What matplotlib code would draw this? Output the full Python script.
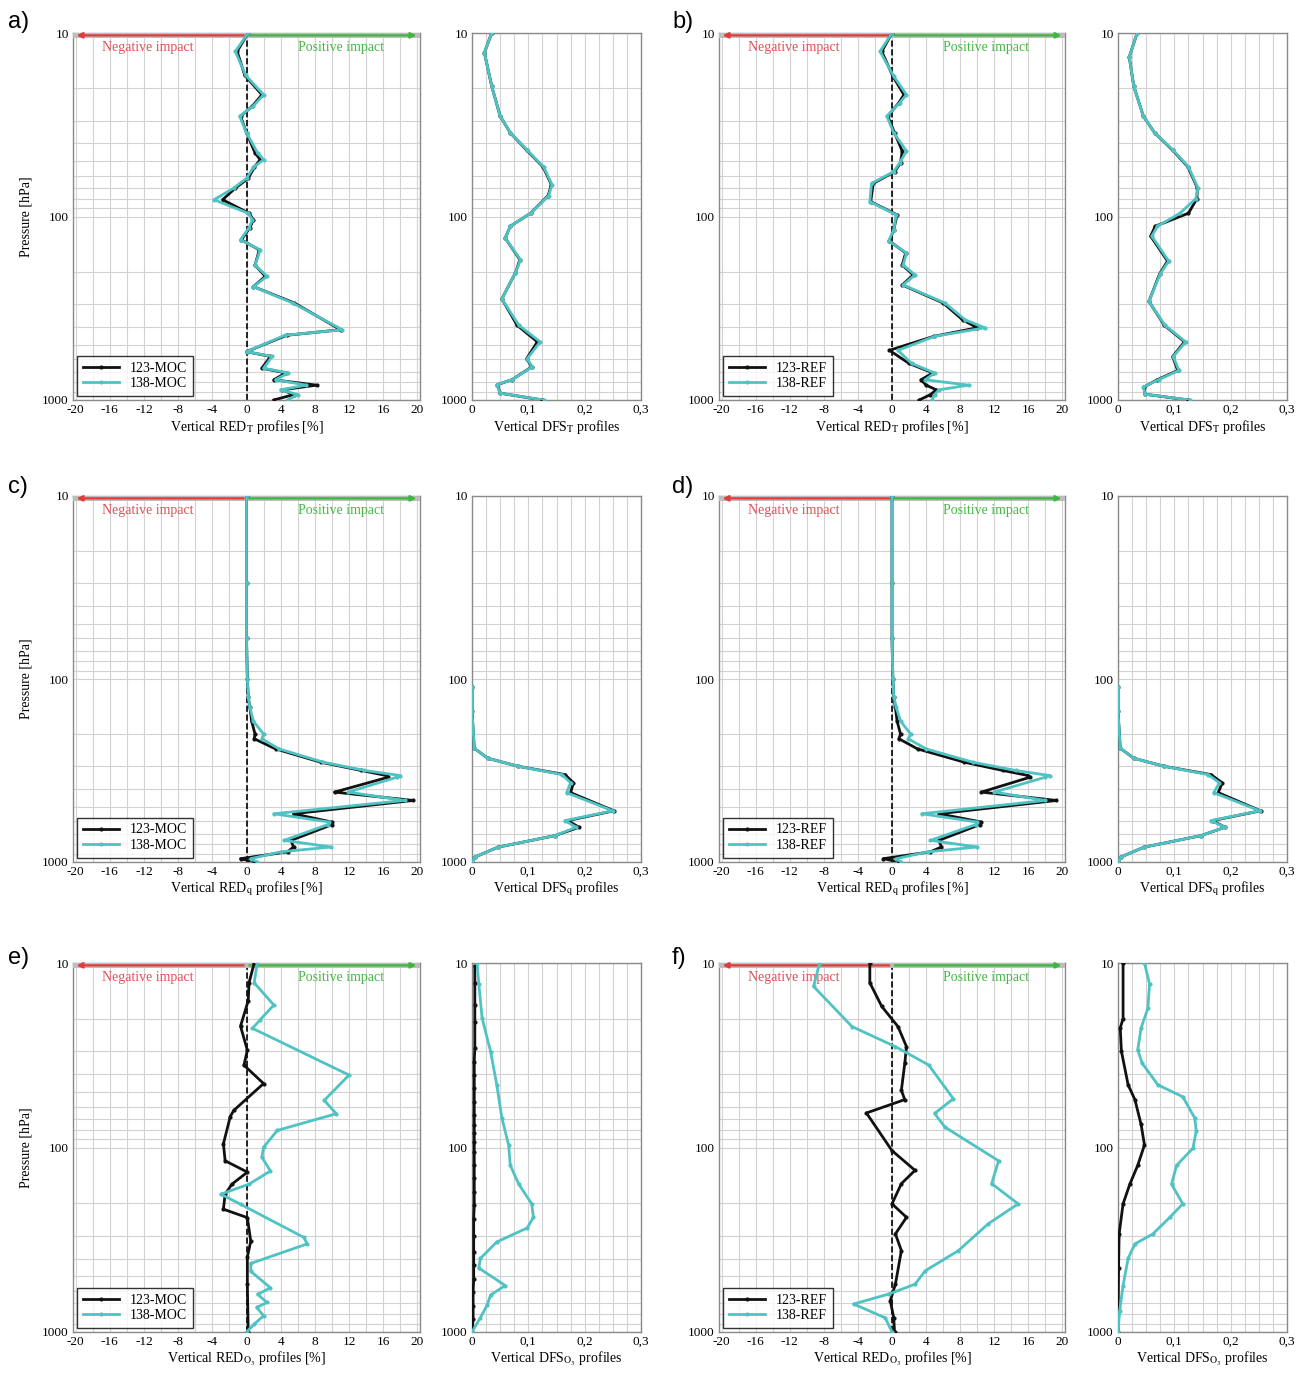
import matplotlib
matplotlib.use("Agg")
import matplotlib.pyplot as plt
from matplotlib.ticker import MultipleLocator, LogLocator, NullFormatter, FixedLocator

plt.rcParams['font.family'] = ['Liberation Serif', 'DejaVu Serif']
plt.rcParams['mathtext.fontset'] = 'stix'

# --- data (pressure in hPa, RED in %, DFS unitless) ---
# a) temperature, MOC
p_a = [10, 12.6, 17, 21.7, 25, 28.4, 35, 45, 49, 54, 62, 70, 81, 96, 104, 115, 134, 152, 184, 212, 241,
       296, 414, 444, 545, 579, 671, 712, 776, 830, 880, 935, 1000]
a_red_138 = [0.2, -1.3, -0.1, 2.0, 0.8, -0.8, 0.0, 1.3, 2.0, 0.8, 0.0, -1.5, -3.8, 0.2, 0.7, 0.3, -0.7, 1.6, 1.0,
             2.4, 0.8, 5.4, 11.2, 4.5, 0.0, 3.0, 2.0, 4.9, 3.4, 7.0, 4.0, 6.0, 4.8]
a_red_123 = [0.2, -1.1, -0.2, 1.8, 0.7, -0.7, 0.0, 1.0, 1.6, 0.9, 0.2, -1.3, -2.8, 0.3, 0.8, 0.4, -0.6, 1.5, 1.0,
             2.2, 0.8, 5.6, 11.0, 4.7, 0.0, 2.8, 1.8, 4.6, 3.2, 8.2, 4.2, 5.5, 3.2]
p_a_dfs = [10, 12.8, 19.5, 28.4, 35, 43.5, 53.6, 67, 77, 96, 113, 131, 172, 203, 281, 391, 482, 595, 660, 775,
           825, 918, 1000]
a_dfs_138 = [0.035, 0.022, 0.035, 0.05, 0.068, 0.098, 0.127, 0.142, 0.136, 0.104, 0.068, 0.059, 0.086, 0.077,
             0.053, 0.083, 0.121, 0.098, 0.107, 0.071, 0.044, 0.05, 0.127]
a_dfs_123 = [0.035, 0.022, 0.035, 0.05, 0.068, 0.097, 0.126, 0.141, 0.135, 0.104, 0.068, 0.059, 0.085, 0.077,
             0.053, 0.08, 0.116, 0.097, 0.106, 0.071, 0.045, 0.05, 0.125]

# b) temperature, REF
p_b = [10, 12.6, 17.2, 21.7, 24, 28.4, 35, 44, 51, 57, 66, 83, 98, 118, 136, 158, 184, 208, 236, 296, 366, 404,
       450, 536, 632, 712, 776, 830, 880, 935, 1000]
b_red_138 = [0, -1.4, 0.2, 1.7, 0.9, -0.6, 0.2, 1.7, 0.9, 0.2, -2.4, -2.6, 0.5, 0.2, -0.4, 1.7, 1.3, 2.7, 1.3,
             6.2, 8.6, 10.9, 5.0, 0.7, 2.3, 5.0, 3.9, 9.0, 5.5, 5.0, 4.7]
b_red_123 = [0, -1.2, 0.1, 1.4, 0.8, -0.5, 0.3, 1.2, 1.0, 0.3, -2.2, -2.5, 0.6, 0.2, -0.3, 1.6, 1.2, 2.5, 1.2,
             6.0, 8.3, 10.0, 4.9, -0.3, 2.0, 4.8, 3.4, 4.0, 5.2, 4.5, 3.2]
p_b_dfs = [10, 13.5, 19.5, 28.4, 35, 43.5, 53.6, 70, 80, 96, 113, 128, 175, 205, 290, 391, 482, 580, 690, 775,
           850, 930, 1000]
b_dfs_138 = [0.034, 0.02, 0.028, 0.045, 0.065, 0.098, 0.125, 0.142, 0.138, 0.11, 0.07, 0.06, 0.09, 0.075, 0.055,
             0.083, 0.12, 0.098, 0.108, 0.072, 0.045, 0.048, 0.127]
b_dfs_123 = [0.034, 0.02, 0.028, 0.045, 0.065, 0.097, 0.124, 0.141, 0.14, 0.125, 0.066, 0.058, 0.088, 0.074,
             0.055, 0.082, 0.118, 0.097, 0.106, 0.07, 0.046, 0.048, 0.125]

# c) humidity, MOC
p_c = [10, 30, 60, 100, 125, 143, 170, 200, 212, 241, 285, 316, 337, 344, 415, 461, 545, 605, 625, 762, 828,
       880, 959, 1000]
c_red_138 = [0, 0, 0, 0.1, 0.2, 0.4, 0.8, 2.0, 1.8, 3.8, 9.0, 13.8, 18.0, 17.6, 11.9, 18.5, 3.2, 9.7, 9.5, 4.4,
             9.9, 4.0, 0.5, 1.2]
c_red_123 = [0, 0, 0, 0.1, 0.2, 0.4, 0.6, 1.0, 0.9, 3.4, 8.7, 13.4, 16.4, 16.6, 10.3, 19.5, 5.5, 10.0, 10.0, 5.2,
             5.5, 4.8, -0.7, 0.9]
p_cd_dfs = [110, 150, 239, 271, 300, 333, 369, 418, 525, 594, 646, 718, 830, 940, 1000]
c_dfs_138 = [0, 0, 0.004, 0.028, 0.082, 0.16, 0.175, 0.168, 0.25, 0.165, 0.185, 0.147, 0.046, 0.005, 0]
c_dfs_123 = [0, 0, 0.004, 0.028, 0.082, 0.165, 0.18, 0.175, 0.252, 0.17, 0.19, 0.147, 0.046, 0.005, 0]

# d) humidity, REF
d_red_138 = [0, 0, 0, 0.1, 0.2, 0.5, 1.0, 2.2, 1.9, 4.0, 9.5, 14.5, 18.5, 18.0, 12.0, 18.0, 3.5, 10.0, 9.8, 4.5,
             10.0, 4.2, 0.5, 1.0]
d_red_123 = [0, 0, 0, 0.1, 0.2, 0.4, 0.6, 1.0, 0.8, 3.0, 8.5, 13.0, 16.0, 16.2, 10.5, 19.3, 5.5, 10.5, 10.3, 5.5,
             5.8, 4.5, -1.0, 0.8]
d_dfs_138 = [0, 0, 0.004, 0.028, 0.082, 0.16, 0.18, 0.17, 0.252, 0.165, 0.19, 0.147, 0.046, 0.005, 0]
d_dfs_123 = [0, 0, 0.004, 0.028, 0.082, 0.165, 0.185, 0.178, 0.253, 0.168, 0.19, 0.147, 0.046, 0.005, 0]

# model levels with markers (used for the near-zero O3 DFS curves)
levels = [10.4, 12.8, 16.8, 20.9, 29, 34.2, 40.5, 47.8, 56.6, 66.9, 75.7, 83.8, 93, 106, 125, 147, 174, 205, 243,
          300, 369, 434, 518, 610, 720, 850, 1000]

# e) ozone, MOC
p_e_138 = [10, 12.8, 16.9, 20.3, 22.6, 40.5, 55.5, 65.6, 80.8, 99.7, 113, 134, 158, 179, 203, 307, 333, 425, 469,
           576, 625, 691, 736, 817, 906, 1000]
e_red_138 = [1.25, 0.9, 3.2, 1.6, 0.7, 12.0, 9.1, 10.5, 3.6, 2.0, 1.8, 2.8, 0.3, -3.0, -0.7, 6.7, 7.1, 0.5, 0.5,
             2.8, 1.3, 2.4, 1.2, 2.0, 0.9, 0.0]
p_e_123 = [10, 12.8, 16, 22, 29.7, 35.8, 45, 63, 68, 95.4, 118, 136, 158, 179, 216, 240, 322, 392, 552, 1000]
e_red_123 = [0.9, 0.3, 0.2, -0.7, 0.1, -0.3, 2.0, -1.5, -1.9, -2.7, -2.5, 0.1, -1.7, -2.5, -2.7, 0.1, 0.5, 0.1,
             0.1, 0.2]
p_e_dfs = [10, 13, 19.9, 30.2, 45.8, 69, 97, 125, 158, 202, 239, 273, 325, 399, 450, 560, 630, 713, 835, 1000]
e_dfs_138 = [0.009, 0.012, 0.018, 0.033, 0.044, 0.053, 0.065, 0.068, 0.083, 0.106, 0.109, 0.098, 0.044, 0.015,
             0.012, 0.059, 0.033, 0.027, 0.015, 0.0]
e_dfs_123 = [0.005, 0.005, 0.005, 0.005, 0.005, 0.004, 0.004, 0.004, 0.004, 0.004, 0.004, 0.004, 0.004, 0.004,
             0.004, 0.004, 0.004, 0.004, 0.003, 0.003, 0.003, 0.003, 0.003, 0.002, 0.002, 0.002, 0.0]

# f) ozone, REF
p_f_138 = [10, 13.4, 22.1, 28.4, 35.7, 54.4, 65.4, 77.5, 118, 157, 202, 259, 362, 466, 551, 623, 705, 838, 1000]
f_red_138 = [-8.5, -9.2, -4.7, 0.4, 4.3, 7.2, 5.0, 6.2, 12.5, 11.7, 14.8, 11.3, 7.8, 3.9, 2.7, -0.4, -4.5, -0.8,
             0.0]
p_f_123 = [10, 12.8, 17.2, 22.1, 28.4, 35, 49, 55, 65, 104, 133, 157, 202, 239, 294, 362, 551, 676, 838, 1000]
f_red_123 = [-2.6, -2.6, -1.2, 0.7, 1.7, 1.5, 1.1, 1.5, -3.0, 0.0, 2.7, 1.1, 0.0, 1.7, 0.4, 1.1, 0.4, -0.2, 0.2,
             0.3]
p_f_dfs_138 = [10, 13, 17.6, 22.5, 29.6, 35, 45.8, 53.1, 69, 81, 101, 125, 158, 202, 239, 294, 333, 399, 560, 765,
               1000]
f_dfs_138 = [0.047, 0.056, 0.053, 0.041, 0.035, 0.043, 0.071, 0.115, 0.136, 0.139, 0.133, 0.104, 0.095, 0.115,
             0.092, 0.062, 0.03, 0.018, 0.009, 0.003, 0.0]
p_f_dfs_123 = [10, 20, 22.5, 30, 45.8, 55, 75, 97, 125, 158, 202, 294, 450, 1000]
f_dfs_123 = [0.009, 0.009, 0.004, 0.006, 0.018, 0.03, 0.041, 0.047, 0.035, 0.021, 0.009, 0.002, 0.001, 0.0]

red_ticks = [-20, -16, -12, -8, -4, 0, 4, 8, 12, 16, 20]
dfs_ticks = [0, 0.1, 0.2, 0.3]
dfs_tick_labels = ['0', '0,1', '0,2', '0,3']

CYAN = '#4fc3c3'
BLACK = '#111111'
W, H = 1304, 1375


def base_axis(ax):
    ax.set_yscale('log')
    ax.set_ylim(1000, 10)
    ax.yaxis.set_major_locator(FixedLocator([10, 100, 1000]))
    ax.set_yticklabels(['10', '100', '1000'])
    ax.yaxis.set_minor_locator(LogLocator(base=10, subs=range(2, 10)))
    ax.yaxis.set_minor_formatter(NullFormatter())
    ax.grid(True, which='both', color='#d2d2d2', linewidth=0.8)
    ax.set_axisbelow(True)
    ax.tick_params(which='both', length=0, labelsize=9.5, pad=3)
    for s in ax.spines.values():
        s.set_color('#8a8a8a')
        s.set_linewidth(1.0)


def draw_red(ax, p123, v123, p138, v138, tag, sub, ylabel=True):
    base_axis(ax)
    ax.set_xlim(-20.3, 20.3)
    ax.set_xticks(red_ticks)
    ax.set_xticklabels([str(t) for t in red_ticks])
    ax.xaxis.set_minor_locator(MultipleLocator(2))
    ax.axvline(0, color='black', linestyle='--', linewidth=1.2, zorder=2)
    # impact band at the top
    ax.axhspan(10, 10.7, color='#bdbdbd', zorder=3, lw=0)
    ax.annotate('', xy=(-20.2, 10.3), xytext=(0, 10.3),
                arrowprops=dict(arrowstyle='-|>', color='#e53a3a', lw=1.6, mutation_scale=8), zorder=4)
    ax.annotate('', xy=(20.2, 10.3), xytext=(0, 10.3),
                arrowprops=dict(arrowstyle='-|>', color='#3cb83c', lw=1.6, mutation_scale=8), zorder=4)
    ax.text(-11.5, 12.0, 'Negative impact', color='#e0505a', fontsize=10, ha='center', va='center')
    ax.text(11.0, 12.0, 'Positive impact', color='#45b845', fontsize=10, ha='center', va='center')
    ax.plot(v123, p123, color=BLACK, lw=2.0, marker='.', ms=4, label='123-' + tag, zorder=5)
    ax.plot(v138, p138, color=CYAN, lw=2.0, marker='.', ms=4, label='138-' + tag, zorder=6)
    ax.set_xlabel('Vertical RED$_{\\mathrm{' + sub + '}}$ profiles [%]', fontsize=10, labelpad=1)
    if ylabel:
        ax.set_ylabel('Pressure [hPa]', fontsize=10, labelpad=7)
    leg = ax.legend(loc='lower left', fontsize=10, frameon=True, fancybox=False,
                    edgecolor='black', handlelength=2.6, borderpad=0.4, labelspacing=0.2,
                    borderaxespad=0.3)
    leg.get_frame().set_linewidth(1.0)


def draw_dfs(ax, p123, v123, p138, v138, sub):
    base_axis(ax)
    ax.set_xlim(0, 0.3)
    ax.set_xticks(dfs_ticks)
    ax.set_xticklabels(dfs_tick_labels)
    ax.xaxis.set_minor_locator(MultipleLocator(0.025))
    ax.plot(v123, p123, color=BLACK, lw=2.0, marker='.', ms=4, zorder=5)
    ax.plot(v138, p138, color=CYAN, lw=2.0, marker='.', ms=4, zorder=6)
    ax.set_xlabel('Vertical DFS$_{\\mathrm{' + sub + '}}$ profiles', fontsize=10, labelpad=1)


fig = plt.figure(figsize=(W / 100, H / 100), dpi=100)


def add(l, t, w, b):
    return fig.add_axes([l / W, 1 - b / H, w / W, (b - t) / H])


rows = [(33, 400), (496, 862), (963, 1332)]
# row 1
t, b = rows[0]
draw_red(add(73, t, 347, b), p_a, a_red_123, p_a, a_red_138, 'MOC', 'T')
draw_dfs(add(472, t, 169, b), p_a_dfs, a_dfs_123, p_a_dfs, a_dfs_138, 'T')
draw_red(add(719, t, 346, b), p_b, b_red_123, p_b, b_red_138, 'REF', 'T', ylabel=False)
draw_dfs(add(1118, t, 169, b), p_b_dfs, b_dfs_123, p_b_dfs, b_dfs_138, 'T')
# row 2
t, b = rows[1]
draw_red(add(73, t, 347, b), p_c, c_red_123, p_c, c_red_138, 'MOC', 'q')
draw_dfs(add(472, t, 169, b), p_cd_dfs, c_dfs_123, p_cd_dfs, c_dfs_138, 'q')
draw_red(add(719, t, 346, b), p_c, d_red_123, p_c, d_red_138, 'REF', 'q', ylabel=False)
draw_dfs(add(1118, t, 169, b), p_cd_dfs, d_dfs_123, p_cd_dfs, d_dfs_138, 'q')
# row 3
t, b = rows[2]
draw_red(add(73, t, 347, b), p_e_123, e_red_123, p_e_138, e_red_138, 'MOC', 'O_3')
draw_dfs(add(472, t, 169, b), levels, e_dfs_123, p_e_dfs, e_dfs_138, 'O_3')
draw_red(add(719, t, 346, b), p_f_123, f_red_123, p_f_138, f_red_138, 'REF', 'O_3', ylabel=False)
draw_dfs(add(1118, t, 169, b), p_f_dfs_123, f_dfs_123, p_f_dfs_138, f_dfs_138, 'O_3')

for lab, x, y in [('a)', 8, 22), ('b)', 672, 22), ('c)', 8, 487), ('d)', 672, 487),
                  ('e)', 8, 958), ('f)', 672, 958)]:
    fig.text(x / W, 1 - y / H, lab, fontsize=17, family='Liberation Sans', va='center', ha='left')

fig.savefig('out.png', dpi=100)
